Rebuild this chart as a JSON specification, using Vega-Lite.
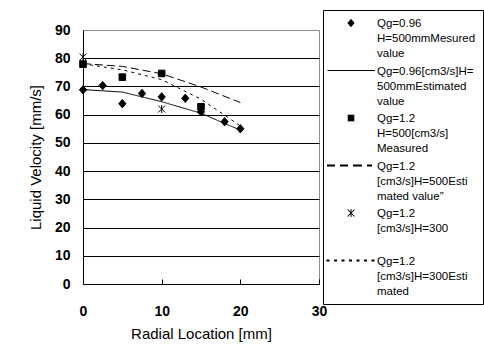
{
  "$schema": "https://vega.github.io/schema/vega-lite/v6.json",
  "width": 236,
  "height": 254,
  "autosize": "none",
  "padding": {"left": 83, "top": 30, "right": 165, "bottom": 71},
  "background": "white",
  "data": {"values": [
    {"series": "Qg=0.96|H=500mmMesured|value", "kind": "measured", "r": 0, "v": 68.8},
    {"series": "Qg=0.96|H=500mmMesured|value", "kind": "measured", "r": 2.5, "v": 70.3},
    {"series": "Qg=0.96|H=500mmMesured|value", "kind": "measured", "r": 5, "v": 63.9},
    {"series": "Qg=0.96|H=500mmMesured|value", "kind": "measured", "r": 7.5, "v": 67.5},
    {"series": "Qg=0.96|H=500mmMesured|value", "kind": "measured", "r": 10, "v": 66.3},
    {"series": "Qg=0.96|H=500mmMesured|value", "kind": "measured", "r": 13, "v": 65.8},
    {"series": "Qg=0.96|H=500mmMesured|value", "kind": "measured", "r": 15, "v": 61.0},
    {"series": "Qg=0.96|H=500mmMesured|value", "kind": "measured", "r": 18, "v": 57.5},
    {"series": "Qg=0.96|H=500mmMesured|value", "kind": "measured", "r": 20, "v": 55.0},
    {"series": "Qg=0.96[cm3/s]H=|500mmEstimated|value", "kind": "estimated", "r": 0, "v": 68.9},
    {"series": "Qg=0.96[cm3/s]H=|500mmEstimated|value", "kind": "estimated", "r": 5, "v": 68.0},
    {"series": "Qg=0.96[cm3/s]H=|500mmEstimated|value", "kind": "estimated", "r": 10, "v": 64.6},
    {"series": "Qg=0.96[cm3/s]H=|500mmEstimated|value", "kind": "estimated", "r": 15, "v": 60.5},
    {"series": "Qg=0.96[cm3/s]H=|500mmEstimated|value", "kind": "estimated", "r": 20, "v": 54.5},
    {"series": "Qg=1.2|H=500[cm3/s]|Measured", "kind": "measured", "r": 0, "v": 77.9},
    {"series": "Qg=1.2|H=500[cm3/s]|Measured", "kind": "measured", "r": 5, "v": 73.3},
    {"series": "Qg=1.2|H=500[cm3/s]|Measured", "kind": "measured", "r": 10, "v": 74.6},
    {"series": "Qg=1.2|H=500[cm3/s]|Measured", "kind": "measured", "r": 15, "v": 62.8},
    {"series": "Qg=1.2|[cm3/s]H=500Esti|mated value”", "kind": "estimated", "r": 0, "v": 78.1},
    {"series": "Qg=1.2|[cm3/s]H=500Esti|mated value”", "kind": "estimated", "r": 5, "v": 77.1},
    {"series": "Qg=1.2|[cm3/s]H=500Esti|mated value”", "kind": "estimated", "r": 10, "v": 74.5},
    {"series": "Qg=1.2|[cm3/s]H=500Esti|mated value”", "kind": "estimated", "r": 15, "v": 69.8},
    {"series": "Qg=1.2|[cm3/s]H=500Esti|mated value”", "kind": "estimated", "r": 20, "v": 64.3},
    {"series": "Qg=1.2|[cm3/s]H=300| ", "kind": "measured", "r": 0, "v": 80.4},
    {"series": "Qg=1.2|[cm3/s]H=300| ", "kind": "measured", "r": 10, "v": 62.0},
    {"series": "Qg=1.2|[cm3/s]H=300Esti|mated", "kind": "estimated", "r": 0, "v": 78.0},
    {"series": "Qg=1.2|[cm3/s]H=300Esti|mated", "kind": "estimated", "r": 5, "v": 75.9},
    {"series": "Qg=1.2|[cm3/s]H=300Esti|mated", "kind": "estimated", "r": 10, "v": 72.4},
    {"series": "Qg=1.2|[cm3/s]H=300Esti|mated", "kind": "estimated", "r": 15, "v": 65.5},
    {"series": "Qg=1.2|[cm3/s]H=300Esti|mated", "kind": "estimated", "r": 20, "v": 56.0}
  ]},
  "encoding": {
    "x": {"field": "r", "type": "quantitative",
      "scale": {"domain": [0, 30], "nice": false, "zero": false},
      "axis": {"title": "Radial Location [mm]", "values": [0, 10, 20, 30], "grid": false, "labelFlush": false,
        "tickSize": -5, "labelPadding": 25, "titlePadding": 8}},
    "y": {"field": "v", "type": "quantitative",
      "scale": {"domain": [0, 90], "nice": false},
      "axis": {"title": "Liquid Velocity [mm/s]", "values": [0, 10, 20, 30, 40, 50, 60, 70, 80, 90],
        "grid": true, "ticks": false, "labelFlush": false, "labelPadding": 13, "titlePadding": 11,
        "gridColor": {"condition": {"test": "datum.value >= 90", "value": "#8c8c8c"}, "value": "black"}}}
  },
  "layer": [
    {
      "transform": [{"filter": "datum.kind == 'estimated'"}],
      "mark": {"type": "line", "color": "black", "strokeWidth": 1},
      "encoding": {
        "detail": {"field": "series"},
        "strokeDash": {"field": "series", "type": "nominal", "legend": null,
          "scale": {"domain": ["Qg=0.96[cm3/s]H=|500mmEstimated|value", "Qg=1.2|[cm3/s]H=500Esti|mated value”", "Qg=1.2|[cm3/s]H=300Esti|mated"],
            "range": [[1, 0], [8, 4], [3, 4]]}},
        "strokeWidth": {"field": "series", "type": "nominal", "legend": null,
          "scale": {"domain": ["Qg=0.96[cm3/s]H=|500mmEstimated|value", "Qg=1.2|[cm3/s]H=500Esti|mated value”", "Qg=1.2|[cm3/s]H=300Esti|mated"],
            "range": [1, 1, 1.6]}}
      }
    },
    {
      "transform": [{"filter": "datum.kind == 'measured'"}],
      "mark": {"type": "point", "filled": true, "color": "black", "stroke": "black", "strokeWidth": 1, "opacity": 1, "size": 400},
      "encoding": {
        "shape": {"field": "series", "type": "nominal", "legend": null,
          "scale": {
            "domain": ["Qg=0.96|H=500mmMesured|value", "Qg=1.2|H=500[cm3/s]|Measured", "Qg=1.2|[cm3/s]H=300| "],
            "range": [
              "M0,-0.42L0.36,0L0,0.42L-0.36,0Z",
              "M-0.33,-0.33H0.33V0.33H-0.33Z",
              "M-0.35,-0.35L0.35,0.35M-0.35,0.35L0.35,-0.35M0,-0.4V0.4"
            ]}
        }
      }
    },
    {
      "transform": [{"filter": "false"}],
      "mark": {"type": "point", "filled": true, "color": "black", "opacity": 1, "size": 400},
      "encoding": {
        "shape": {"field": "series", "type": "nominal",
          "scale": {
            "domain": ["Qg=0.96|H=500mmMesured|value", "Qg=0.96[cm3/s]H=|500mmEstimated|value", "Qg=1.2|H=500[cm3/s]|Measured", "Qg=1.2|[cm3/s]H=500Esti|mated value”", "Qg=1.2|[cm3/s]H=300| ", "Qg=1.2|[cm3/s]H=300Esti|mated"],
            "range": [
              "M0,-0.82L0.36,-0.4L0,0.02L-0.36,-0.4Z",
              "M-2.35,-0.45H2.4V-0.35H-2.35Z",
              "M-0.33,-0.73H0.33V-0.07H-0.33Z",
              "M-2.4,-0.5H-1.6V-0.3H-2.4ZM-1.1,-0.5H-0.3V-0.3H-1.1ZM0.2,-0.5H1.1V-0.3H0.2ZM1.6,-0.5H2.1V-0.3H1.6Z",
              "M-0.315,-0.785L0.385,-0.085L0.315,-0.015L-0.385,-0.715ZM-0.385,-0.085L0.315,-0.785L0.385,-0.715L-0.315,-0.015ZM-0.05,-0.8H0.05V0H-0.05Z",
              "M-2.45,-0.5H-2.15V-0.3H-2.45ZM-1.7,-0.5H-1.4V-0.3H-1.7ZM-0.95,-0.5H-0.65V-0.3H-0.95ZM-0.2,-0.5H0.1V-0.3H-0.2ZM0.55,-0.5H0.85V-0.3H0.55ZM1.3,-0.5H1.6V-0.3H1.3ZM2.05,-0.5H2.35V-0.3H2.05Z"
            ]},
          "legend": {
            "orient": "none", "legendX": 240, "legendY": -20, "title": null,
            "strokeColor": "black", "padding": 7, "symbolOffset": 11,
            "labelExpr": "split(datum.label, '|')",
            "labelFont": "Liberation Sans", "labelFontSize": 11.5, "labelColor": "black",
            "labelLimit": 200, "labelBaseline": "alphabetic", "labelOffset": 16,
            "symbolSize": 400, "symbolFillColor": "black", "symbolStrokeWidth": 0, "symbolOpacity": 1,
            "rowPadding": 4.5
          }
        }
      }
    }
  ],
  "resolve": {"scale": {"shape": "independent"}},
  "config": {
    "view": {"stroke": "#8c8c8c", "strokeWidth": 1},
    "style": {"guide-label": {"lineHeight": 15}},
    "axis": {
      "domainColor": "black", "tickColor": "black", "gridOpacity": 1,
      "labelFont": "Liberation Sans", "labelFontSize": 14, "labelFontWeight": "bold", "labelColor": "black",
      "titleFont": "Liberation Sans", "titleFontSize": 15, "titleFontWeight": "normal", "titleColor": "black"
    }
  }
}
